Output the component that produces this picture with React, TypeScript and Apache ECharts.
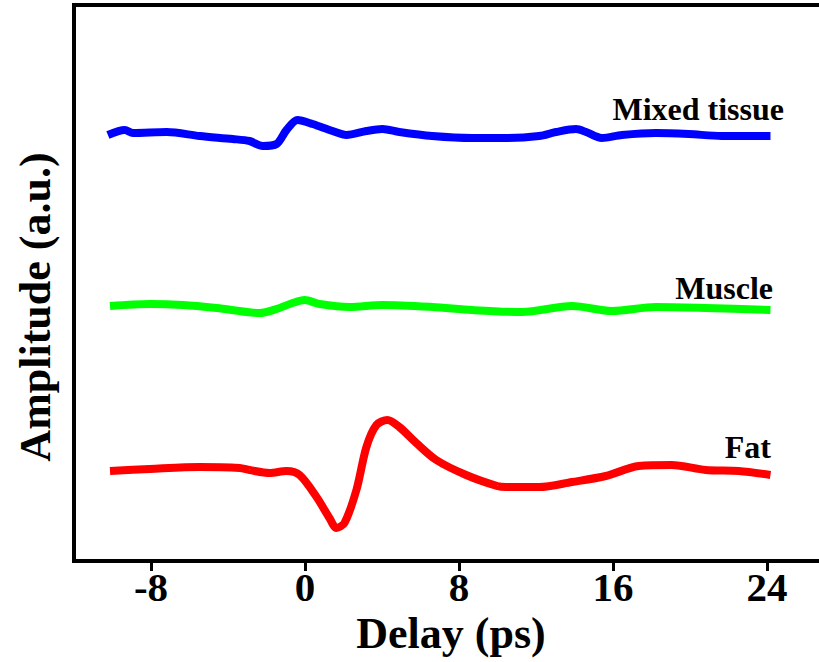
import React, { useEffect, useRef } from "react";
import * as echarts from "echarts";

const xTicks = [-8, 0, 8, 16, 24];

const mixedDelay = [-10.24, -9.36, -8.94, -7.18, -5.47, -3.76, -2.88, -2.2, -1.48, -0.96, -0.39, 0.39, 1.43, 2.15, 3.19, 4.02, 4.9, 6.61, 8.68, 10.45, 12.16, 13.04, 14.08, 14.6, 15.42, 16.46, 18.22, 19.93, 21.64, 24.18];
const mixedAmp = [4.26, 4.31, 4.28, 4.29, 4.25, 4.22, 4.2, 4.15, 4.17, 4.31, 4.41, 4.37, 4.3, 4.26, 4.3, 4.32, 4.29, 4.25, 4.23, 4.23, 4.25, 4.29, 4.32, 4.29, 4.23, 4.26, 4.28, 4.27, 4.25, 4.25];

const muscleDelay = [-10.13, -8.06, -6.35, -4.59, -2.36, -1.48, -0.65, -0.02, 0.75, 2.31, 4.02, 6.61, 8.68, 11.28, 13.87, 15.94, 18.22, 20.81, 24.18];
const muscleAmp = [2.55, 2.57, 2.56, 2.53, 2.48, 2.52, 2.58, 2.61, 2.57, 2.54, 2.56, 2.54, 2.51, 2.49, 2.55, 2.5, 2.54, 2.53, 2.51];

const fatDelay = [-10.13, -8.06, -5.47, -3.39, -2.88, -1.84, -0.96, -0.28, 0.6, 1.27, 1.63, 2.05, 2.67, 3.19, 3.71, 4.28, 4.9, 5.78, 6.82, 8.37, 9.98, 10.45, 12.16, 13.87, 15.63, 17.34, 19.05, 20.81, 22.53, 24.18];
const fatAmp = [0.9, 0.92, 0.94, 0.93, 0.91, 0.88, 0.9, 0.86, 0.64, 0.43, 0.33, 0.38, 0.71, 1.14, 1.36, 1.41, 1.34, 1.18, 1.01, 0.86, 0.75, 0.74, 0.74, 0.79, 0.85, 0.95, 0.96, 0.91, 0.9, 0.86];

const seriesNames = ["Mixed tissue", "Muscle", "Fat"];
const xName = "Delay (ps)";
const yName = "Amplitude (a.u.)";

const FONT = '"Liberation Serif", "Times New Roman", serif';

function pairs(xs: number[], ys: number[]) {
  return xs.map((x, i) => [x, ys[i]]);
}

export default function App() {
  const ref = useRef<HTMLDivElement>(null);
  useEffect(() => {
    document.body.style.margin = "0";
    const chart = echarts.init(ref.current!, null, { renderer: "svg" });
    const lineSeries = (name: string, data: number[][], color: string) => ({
      name,
      type: "line",
      data,
      smooth: 0.3,
      showSymbol: false,
      symbol: "none",
      clip: false,
      lineStyle: { color, width: 8 },
      itemStyle: { color },
    });
    chart.setOption({
      animation: false,
      backgroundColor: "#ffffff",
      grid: {
        left: 74,
        top: 5,
        right: -25,
        bottom: 101,
        show: true,
        borderColor: "#000",
        borderWidth: 4,
        outerBoundsMode: "none",
        containLabel: false,
      },
      xAxis: {
        type: "value",
        min: -12,
        max: 28,
        splitLine: { show: false },
        axisLine: { show: true, onZero: false, lineStyle: { color: "#000", width: 4 } },
        axisTick: {
          show: true,
          customValues: xTicks,
          length: 10,
          lineStyle: { color: "#000", width: 3 },
        },
        axisLabel: {
          customValues: xTicks,
          margin: 5,
          color: "#000",
          fontFamily: FONT,
          fontWeight: "bold",
          fontSize: 41,
          lineHeight: 41,
        },
      },
      yAxis: {
        type: "value",
        min: 0,
        max: 5.56,
        splitLine: { show: false },
        axisLine: { show: true, onZero: false, lineStyle: { color: "#000", width: 4 } },
        axisTick: { show: false },
        axisLabel: { show: false },
      },
      series: [
        lineSeries(seriesNames[0], pairs(mixedDelay, mixedAmp), "#0000ff"),
        lineSeries(seriesNames[1], pairs(muscleDelay, muscleAmp), "#00ff00"),
        lineSeries(seriesNames[2], pairs(fatDelay, fatAmp), "#ff0000"),
      ],
      graphic: [
        {
          type: "text",
          x: 784,
          y: 109,
          style: { text: seriesNames[0], align: "right", verticalAlign: "middle", font: `bold 32px ${FONT}`, fill: "#000" },
        },
        {
          type: "text",
          x: 773,
          y: 288,
          style: { text: seriesNames[1], align: "right", verticalAlign: "middle", font: `bold 32px ${FONT}`, fill: "#000" },
        },
        {
          type: "text",
          x: 771,
          y: 447,
          style: { text: seriesNames[2], align: "right", verticalAlign: "middle", font: `bold 32px ${FONT}`, fill: "#000" },
        },
        {
          type: "text",
          x: 451,
          y: 633,
          style: { text: xName, align: "center", verticalAlign: "middle", lineHeight: 34, font: `bold 44px ${FONT}`, fill: "#000" },
        },
        {
          type: "text",
          x: 35,
          y: 307,
          rotation: Math.PI / 2,
          style: { text: yName, align: "center", verticalAlign: "middle", font: `bold 44px ${FONT}`, fill: "#000" },
        },
      ],
    });
    return () => chart.dispose();
  }, []);
  return (
    <div
      ref={ref}
      style={{ position: "absolute", left: 0, top: 0, width: 819, height: 662 }}
    />
  );
}
